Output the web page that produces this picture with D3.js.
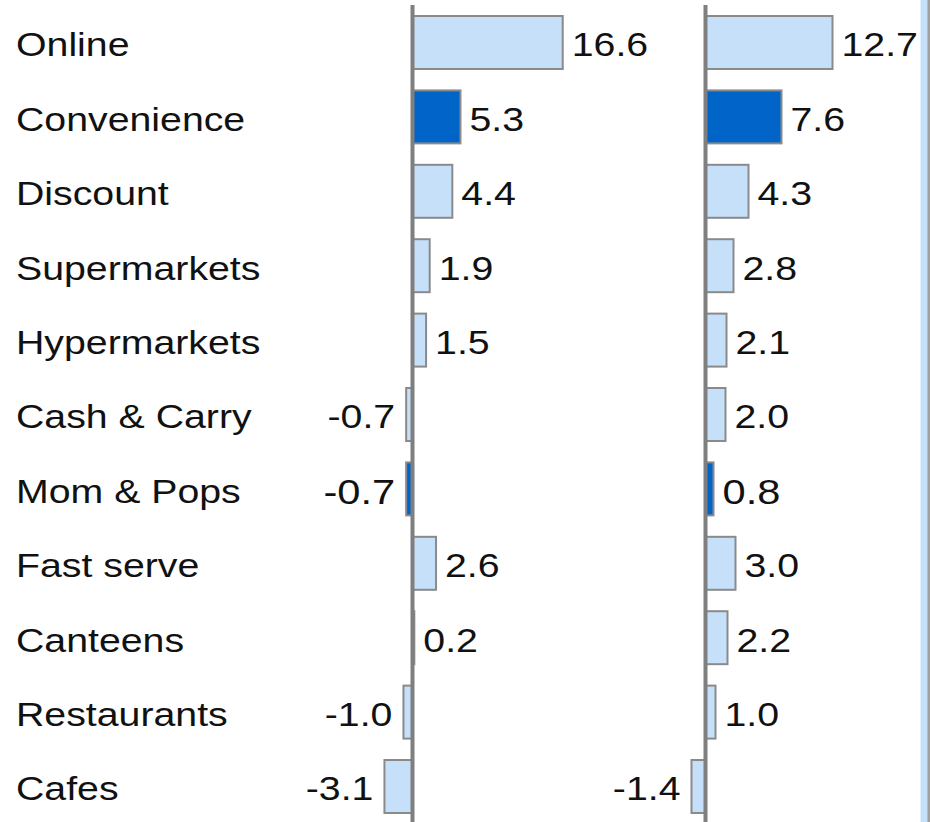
<!DOCTYPE html>
<html>
<head>
<meta charset="utf-8">
<script src="https://cdn.jsdelivr.net/npm/d3@7"></script>
<style>
  html, body { margin: 0; padding: 0; background: #fff; }
  svg { display: block; }
  text { font-family: "Liberation Sans", Arial, sans-serif; fill: #111; }
</style>
</head>
<body>
<svg id="chart" width="930" height="822"></svg>
<script>
// ---- data ----
const categories = ["Online", "Convenience", "Discount", "Supermarkets", "Hypermarkets",
  "Cash & Carry", "Mom & Pops", "Fast serve", "Canteens", "Restaurants", "Cafes"];
const valuesLeft  = [16.6, 5.3, 4.4, 1.9, 1.5, -0.7, -0.7, 2.6, 0.2, -1.0, -3.1];
const valuesRight = [12.7, 7.6, 4.3, 2.8, 2.1, 2.0, 0.8, 3.0, 2.2, 1.0, -1.4];
const highlighted = ["Convenience", "Mom & Pops"];
const emphasisRow = "Mom & Pops";

// ---- layout ----
const W = 930, H = 822;
const FONT = 33, STRETCH = 1.19;
const svg = d3.select("#chart");

const y = d3.scaleBand().domain(categories).range([5.3, 5.3 + 11 * 74.4])
  .paddingInner(0.288).paddingOuter(0.144);

const panels = [
  { values: valuesLeft,  x: d3.scaleLinear().domain([-3.1, 16.6]).range([412.5 - 3.1 * 9.05, 412.5 + 16.6 * 9.05]) },
  { values: valuesRight, x: d3.scaleLinear().domain([-1.4, 12.7]).range([705.5 - 1.4 * 10.0, 705.5 + 12.7 * 10.0]) }
];

const fmt = v => v.toFixed(1);
const colLight = "#c6e0fa", colDark = "#0064c8", colStroke = "#8a8a8a", colAxis = "#7f7f7f";

// category labels
svg.append("g").selectAll("text").data(categories).join("text")
  .attr("transform", d => `translate(16,${y(d) + y.bandwidth() / 2}) scale(${STRETCH},1)`)
  .attr("dy", "0.42em")
  .style("font-size", FONT + "px")
  .text(d => d);

panels.forEach(p => {
  const data = categories.map((c, i) => ({ c, v: p.values[i] }));
  const g = svg.append("g");
  g.selectAll("rect").data(data).join("rect")
    .attr("x", d => p.x(Math.min(0, d.v)))
    .attr("width", d => Math.abs(p.x(d.v) - p.x(0)))
    .attr("y", d => y(d.c))
    .attr("height", y.bandwidth())
    .attr("fill", d => highlighted.includes(d.c) ? colDark : colLight)
    .attr("stroke", colStroke)
    .attr("stroke-width", 2);

  // axis line at zero
  g.append("line")
    .attr("x1", p.x(0)).attr("x2", p.x(0))
    .attr("y1", 5).attr("y2", H)
    .attr("stroke", colAxis).attr("stroke-width", 4);

  g.selectAll("text").data(data).join("text")
    .attr("transform", d => {
      const xx = d.v >= 0 ? p.x(d.v) + 9 : p.x(d.v) - 11;
      return `translate(${xx},${y(d.c) + y.bandwidth() / 2}) scale(${STRETCH},1)`;
    })
    .attr("dy", "0.42em")
    .attr("text-anchor", d => d.v >= 0 ? "start" : "end")
    .style("font-size", d => (d.c === emphasisRow ? FONT + 2 : FONT) + "px")
    .text(d => fmt(d.v));
});

// cropped edge of the next panel at the right border
svg.append("rect").attr("x", 920.5).attr("y", 0).attr("width", 6.8).attr("height", H).attr("fill", colLight);
svg.append("rect").attr("x", 927.3).attr("y", 0).attr("width", 2.7).attr("height", H).attr("fill", "#a0a0a0");
</script>
</body>
</html>
